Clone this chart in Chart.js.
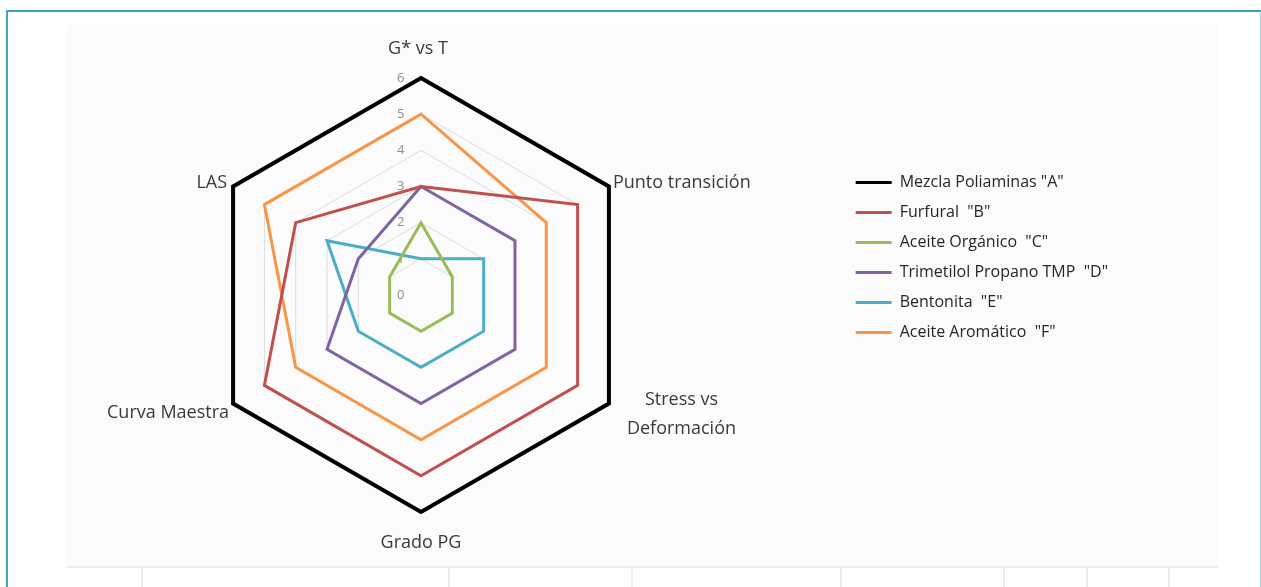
<!DOCTYPE html>
<html>
<head>
<meta charset="utf-8">
<script src="https://cdn.jsdelivr.net/npm/chart.js@4"></script>
<style>
  body { margin: 0; background: #fff; width: 1261px; height: 587px; overflow: hidden; position: relative; font-family: 'Open Sans', sans-serif; }
  .frame { position: absolute; left: 6px; top: 10px; width: 1252px; height: 620px; border-top: 2px solid #3d9dbd; border-left: 2px solid #4aa3bf; border-right: 2px solid #a9d3e2; }
  .panel { position: absolute; left: 67px; top: 25px; width: 1151px; height: 541px; background: #fbfbfb; border-bottom: 2px solid #ececec; }
  .cell { position: absolute; top: 568px; height: 20px; border-left: 2px solid #ececec; }
  .wrap { position: absolute; left: 0; top: 25px; width: 1218px; height: 541px; }
</style>
</head>
<body>
<div class="frame"></div>
<div class="panel"></div>
<div class="cell" style="left:141px"></div>
<div class="cell" style="left:448px"></div>
<div class="cell" style="left:631px"></div>
<div class="cell" style="left:840px"></div>
<div class="cell" style="left:1003px"></div>
<div class="cell" style="left:1086px"></div>
<div class="cell" style="left:1168px"></div>
<div class="wrap"><canvas id="radar"></canvas></div>
<script>
const criteria = ['G* vs T', 'Punto transición', ['Stress vs', 'Deformación'], 'Grado PG', 'Curva Maestra', 'LAS'];

const mezclaA = [6, 6, 6, 6, 6, 6];
const furfuralB = [3, 5, 5, 5, 5, 4];
const aceiteOrganicoC = [2, 1, 1, 1, 1, 1];
const tmpD = [3, 3, 3, 3, 3, 2];
const bentonitaE = [1, 2, 2, 2, 2, 3];
const aceiteAromaticoF = [5, 4, 4, 4, 4, 5];

const seriesNames = ['Mezcla Poliaminas "A"', 'Furfural  "B"', 'Aceite Orgánico  "C"', 'Trimetilol Propano TMP  "D"', 'Bentonita  "E"', 'Aceite Aromático  "F"'];
const seriesColors = ['#000000', '#c0504d', '#9bbb59', '#8064a2', '#4bacc6', '#f79646'];
const seriesData = [mezclaA, furfuralB, aceiteOrganicoC, tmpD, bentonitaE, aceiteAromaticoF];

const datasets = seriesData.map((d, i) => ({
  label: seriesNames[i],
  data: d,
  borderColor: seriesColors[i],
  backgroundColor: 'transparent',
  borderWidth: i === 0 ? 4 : 3,
  pointRadius: 0,
  fill: false,
}));

// category labels placed next to each vertex, like the Excel original
const pointLabelText = {
  id: 'pointLabelText',
  afterDraw(chart) {
    const scale = chart.scales.r;
    const ctx = chart.ctx;
    ctx.save();
    ctx.font = '18px "Open Sans"';
    ctx.fillStyle = '#3a3a3a';
    criteria.forEach((label, i) => {
      const p = scale.getPointPosition(i, scale.drawingArea);
      if (i === 0) {
        ctx.textAlign = 'center'; ctx.textBaseline = 'bottom';
        ctx.fillText(label, p.x - 3, p.y - 20);
      } else if (i === 1) {
        ctx.textAlign = 'left'; ctx.textBaseline = 'middle';
        ctx.fillText(label, p.x + 4, p.y - 4);
      } else if (i === 2) {
        const w = Math.max(...label.map(t => ctx.measureText(t).width));
        ctx.textAlign = 'center'; ctx.textBaseline = 'middle';
        label.forEach((t, k) => ctx.fillText(t, p.x + 18 + w / 2, p.y - 4 + k * 29));
      } else if (i === 3) {
        ctx.textAlign = 'center'; ctx.textBaseline = 'top';
        ctx.fillText(label, p.x, p.y + 22);
      } else if (i === 4) {
        ctx.textAlign = 'right'; ctx.textBaseline = 'middle';
        ctx.fillText(label, p.x - 4, p.y + 9);
      } else {
        ctx.textAlign = 'right'; ctx.textBaseline = 'middle';
        ctx.fillText(label, p.x - 6, p.y - 4);
      }
    });
    ctx.restore();
  },
};

new Chart(document.getElementById('radar'), {
  type: 'radar',
  data: { labels: criteria, datasets },
  plugins: [pointLabelText],
  options: {
    responsive: true,
    maintainAspectRatio: false,
    animation: false,
    layout: { padding: { top: 45, bottom: 45, left: 2, right: 100 } },
    plugins: {
      tooltip: { enabled: false },
      legend: {
        position: 'right',
        align: 'start',
        title: { display: true, text: ' ', padding: { top: 76, bottom: 0 } },
        labels: {
          color: '#262626',
          font: { family: 'Open Sans', size: 16 },
          boxWidth: 36,
          boxHeight: 3,
          padding: 14,
          generateLabels(chart) {
            return chart.data.datasets.map((ds, i) => ({
              text: ds.label,
              fillStyle: ds.borderColor,
              strokeStyle: ds.borderColor,
              lineWidth: 0,
              hidden: false,
              datasetIndex: i,
              fontColor: '#262626',
            }));
          },
        },
      },
    },
    scales: {
      r: {
        min: -0.001,
        max: 6,
        angleLines: { display: false },
        grid: { color: '#dcdcdc', lineWidth: 1 },
        pointLabels: { display: false },
        ticks: {
          stepSize: 1,
          color: '#8f8f8f',
          font: { family: 'Open Sans', size: 13 },
          showLabelBackdrop: false,
          callback: v => Math.round(v) + '            ',
        },
      },
    },
  },
});
</script>
</body>
</html>
